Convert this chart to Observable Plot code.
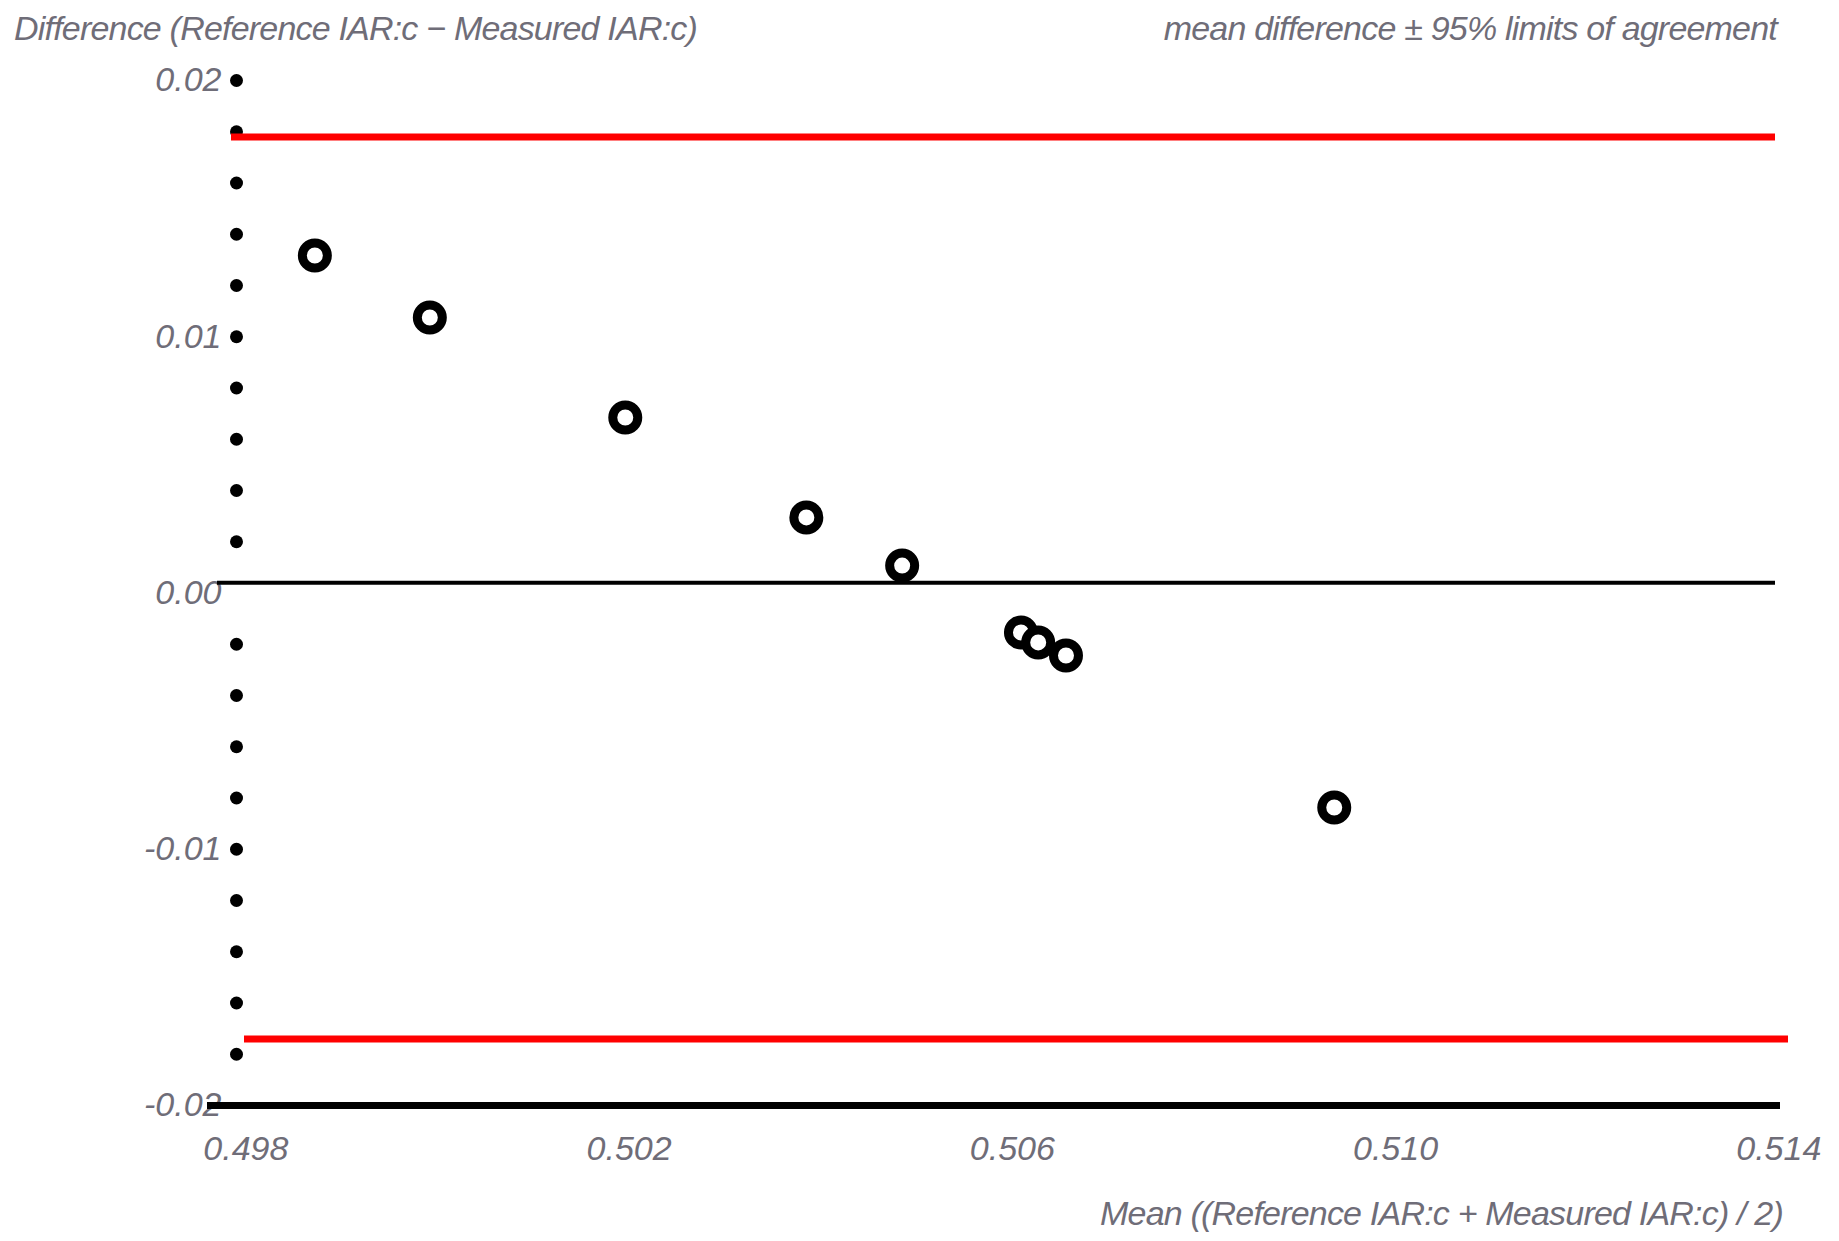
<!DOCTYPE html>
<html>
<head>
<meta charset="utf-8">
<script src="https://cdn.jsdelivr.net/npm/d3@7"></script>
<script src="https://cdn.jsdelivr.net/npm/@observablehq/plot@0.6"></script>
<style>
  html, body { margin: 0; padding: 0; background: #ffffff; }
  body { width: 1839px; height: 1241px; overflow: hidden; font-family: "Liberation Sans", Arial, sans-serif; }
  .hdr { position: relative; height: 56px; }
  .t { position: absolute; top: 0; line-height: 56px; font-size: 34px; font-style: italic; color: #6f6d78; white-space: nowrap; letter-spacing: -0.8px; }
  .cap { height: 55px; line-height: 55px; font-size: 34px; font-style: italic; color: #6f6d78; text-align: right; padding-right: 56px; white-space: nowrap; letter-spacing: -0.8px; }
</style>
</head>
<body>
<div class="hdr">
  <div class="t" style="left:14px">Difference (Reference IAR:c − Measured IAR:c)</div>
  <div class="t" style="right:62px">mean difference ± 95% limits of agreement</div>
</div>
<div id="chart"></div>
<div class="cap">Mean ((Reference IAR:c + Measured IAR:c) / 2)</div>
<script>
// ---- data ----
const meanValues = [0.49872, 0.49992, 0.50196, 0.50385, 0.50485, 0.50609, 0.50627, 0.50656, 0.50936];
const diffValues = [0.01317, 0.01075, 0.00685, 0.00295, 0.00107, -0.00154, -0.00193, -0.00244, -0.00837];
const meanDifference = [0.0004];
const upperLimit = [0.0178];
const lowerLimit = [-0.0174];
const xTicks = [0.498, 0.502, 0.506, 0.510, 0.514];
const xTickLabels = ["0.498", "0.502", "0.506", "0.510", "0.514"];
const yTicks = [0.02, 0.01, 0, -0.01, -0.02];
const yTickLabels = ["0.02", "0.01", "0.00", "-0.01", "-0.02"];
const yMinorTicks = [0.02, 0.018, 0.016, 0.014, 0.012, 0.01, 0.008, 0.006, 0.004, 0.002,
                     -0.002, -0.004, -0.006, -0.008, -0.01, -0.012, -0.014, -0.016, -0.018];
const xDomain = [0.49785, 0.51407];
const yDomain = [-0.02, 0.02];

const points = meanValues.map((m, i) => ({mean: m, diff: diffValues[i]}));

const chart = Plot.plot({
  width: 1839,
  height: 1130,
  marginLeft: 231,
  marginRight: 54,
  marginTop: 24,
  marginBottom: 81,
  x: {domain: xDomain},
  y: {domain: yDomain},
  style: {fontFamily: "Liberation Sans, Arial, sans-serif", fontSize: "34px", fontStyle: "italic", color: "#6f6d78", background: "white"},
  marks: [
    Plot.dot(yMinorTicks, {y: d => d, frameAnchor: "left", dx: 5, r: 6.5, fill: "black", stroke: "none"}),
    Plot.axisY(yTicks, {tickSize: 0, tickPadding: 10, tickFormat: d => yTickLabels[yTicks.indexOf(d)], label: null, fill: "#6f6d78"}),
    Plot.axisX(xTicks, {tickSize: 0, tickPadding: 30, tickFormat: d => xTickLabels[xTicks.indexOf(d)], label: null, fill: "#6f6d78"}),
    Plot.ruleY(upperLimit, {stroke: "#ff0000", strokeWidth: 7, insetRight: 10}),
    Plot.ruleY(lowerLimit, {stroke: "#ff0000", strokeWidth: 7, insetLeft: 13, insetRight: -3}),
    Plot.ruleY(meanDifference, {stroke: "black", strokeWidth: 4, insetLeft: -14, insetRight: 10}),
    Plot.ruleY([yDomain[0]], {stroke: "black", strokeWidth: 7, insetLeft: -24, insetRight: 5}),
    Plot.dot(points, {x: "mean", y: "diff", r: 12.5, stroke: "black", strokeWidth: 9, fill: "white"})
  ]
});
document.getElementById("chart").appendChild(chart);
</script>
</body>
</html>
